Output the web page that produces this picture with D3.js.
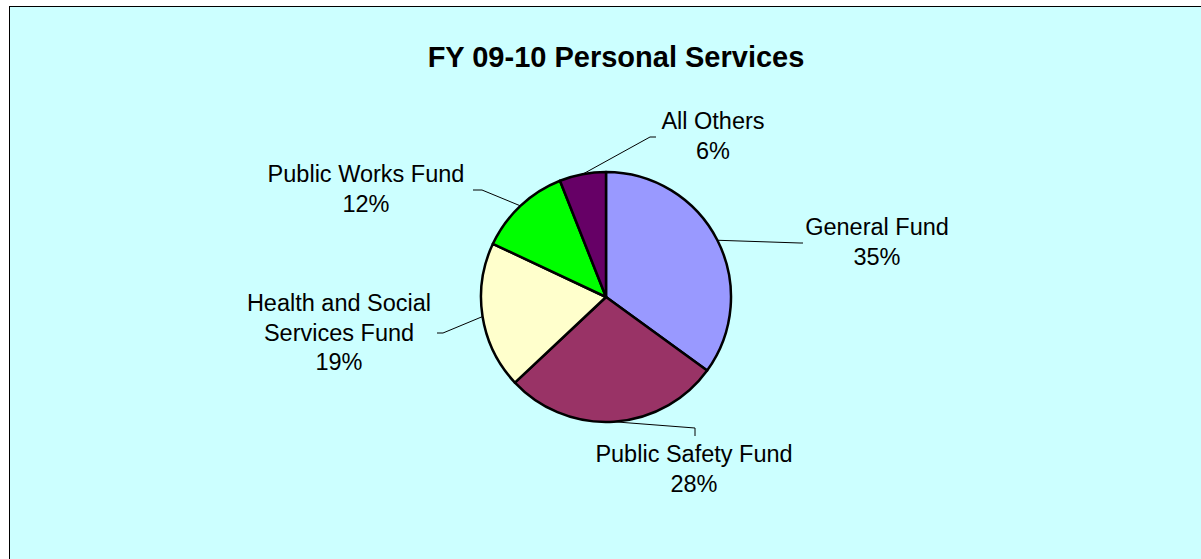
<!DOCTYPE html>
<html>
<head>
<meta charset="utf-8">
<script src="https://cdn.jsdelivr.net/npm/d3@7"></script>
<style>
  body { margin: 0; background: #fff; }
  text { font-family: "Liberation Sans", Arial, sans-serif; fill: #000; }
</style>
</head>
<body>
<div id="vis"></div>
<script>
var width = 1201,
    height = 559;

// data
var categories = ["General Fund", "Public Safety Fund", "Health and Social Services Fund", "Public Works Fund", "All Others"];
var values = [35, 28, 19, 12, 6];
var labelLines = [["General Fund"], ["Public Safety Fund"], ["Health and Social", "Services Fund"], ["Public Works Fund"], ["All Others"]];
var colors = ["#9999FF", "#993366", "#FFFFCC", "#00FF00", "#660066"];

// label layout (where Excel put the labels + leader elbows)
var labelPos = [
  {x: 877, y: 235, elbow: [800, 243], end: [803, 243]},
  {x: 694, y: 462, elbow: [695, 428], end: [695, 436]},
  {x: 339, y: 311, elbow: [443, 333], end: [437, 333]},
  {x: 366, y: 182, elbow: [482, 190], end: [473, 190]},
  {x: 713, y: 129, elbow: [650, 137], end: [656, 137]}
];

var cx = 606, cy = 297, radius = 125,
    lineH = 29.5;

var svg = d3.select("#vis").append("svg")
    .attr("width", width)
    .attr("height", height);

// chart area
svg.append("rect")
    .attr("x", 9.5)
    .attr("y", 6.5)
    .attr("width", 1300)
    .attr("height", 700)
    .attr("fill", "#CCFFFF")
    .attr("stroke", "#000")
    .attr("stroke-width", 1);

svg.append("text")
    .attr("x", 616)
    .attr("y", 67)
    .attr("text-anchor", "middle")
    .style("font-size", "29px")
    .style("font-weight", "bold")
    .text("FY 09-10 Personal Services");

var pie = d3.pie().sort(null).value(function(d) { return d; });
var arc = d3.arc().innerRadius(0).outerRadius(radius);

var slices = pie(values);

var g = svg.append("g")
    .attr("transform", "translate(" + cx + "," + cy + ")");

g.selectAll("path")
    .data(slices)
    .enter()
    .append("path")
    .attr("d", arc)
    .attr("fill", function(d, i) { return colors[i]; })
    .attr("stroke", "#000")
    .attr("stroke-width", 2.5)
    .attr("stroke-linejoin", "round");

// leader lines from the middle of each slice edge
svg.selectAll("polyline.leader")
    .data(slices)
    .enter()
    .append("polyline")
    .attr("class", "leader")
    .attr("fill", "none")
    .attr("stroke", "#000")
    .attr("stroke-width", 1)
    .attr("points", function(d, i) {
        var a = (d.startAngle + d.endAngle) / 2,
            sx = cx + radius * Math.sin(a),
            sy = cy - radius * Math.cos(a),
            p = labelPos[i];
        return [[sx, sy], p.elbow, p.end].map(function(q) { return q.join(","); }).join(" ");
    });

// labels
var labels = svg.selectAll("text.lbl")
    .data(slices)
    .enter()
    .append("text")
    .attr("class", "lbl")
    .attr("text-anchor", "middle")
    .style("font-size", "23.5px");

labels.each(function(d, i) {
    var t = d3.select(this),
        lines = labelLines[i].concat([Math.round(d.value / d3.sum(values) * 100) + "%"]);
    lines.forEach(function(s, k) {
        t.append("tspan")
            .attr("x", labelPos[i].x)
            .attr("y", labelPos[i].y + k * lineH)
            .text(s);
    });
});
</script>
</body>
</html>
